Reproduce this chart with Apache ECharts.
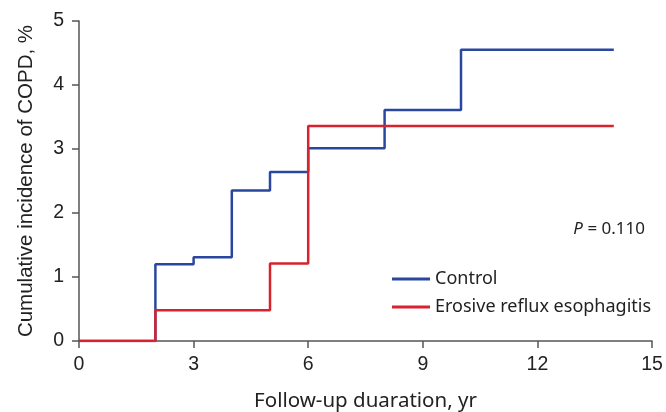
<!DOCTYPE html>
<html>
<head>
<meta charset="utf-8">
<script src="https://cdn.jsdelivr.net/npm/echarts@6/dist/echarts.min.js"></script>
<style>
  html, body { margin: 0; padding: 0; background: #fff; }
  #chart { width: 666px; height: 412px; }
</style>
</head>
<body>
<div id="chart"></div>
<script>
// 随访年份与累计发病率 (%)
const controlYears = [0, 2, 3, 4, 5, 6, 8, 10, 14];
const controlRates = [0, 1.2, 1.31, 2.35, 2.64, 3.01, 3.61, 4.55, 4.55];
const eeYears = [0, 2, 5, 6, 14];
const eeRates = [0, 0.48, 1.21, 3.36, 3.36];
const seriesNames = ['Control', 'Erosive reflux esophagitis'];
const pText = '0.110';

const toPairs = (xs, ys) => xs.map((x, i) => [x, ys[i]]);

const chart = echarts.init(document.getElementById('chart'));

const axisCommon = {
  axisLine: { show: true, lineStyle: { color: '#555', width: 1.5 } },
  axisTick: { show: true, length: 7, lineStyle: { color: '#555', width: 1.5 } },
  splitLine: { show: false },
  axisLabel: { color: '#222', fontSize: 19.5, fontFamily: 'Liberation Sans' }
};

chart.setOption({
  animation: false,
  grid: { left: 79, right: 14, top: 21, bottom: 71, outerBoundsMode: 'none', containLabel: false },
  xAxis: {
    type: 'value', min: 0, max: 15, interval: 3,
    name: 'Follow-up duaration, yr',
    nameLocation: 'middle', nameGap: 50,
    nameTextStyle: { color: '#222', fontSize: 20.5, fontFamily: 'Noto Sans' },
    ...axisCommon,
    axisLabel: { ...axisCommon.axisLabel, margin: 14 }
  },
  yAxis: {
    type: 'value', min: 0, max: 5, interval: 1,
    name: 'Cumulative incidence of COPD, %',
    nameLocation: 'middle', nameGap: 42,
    nameTextStyle: { color: '#222', fontSize: 20.5, fontFamily: 'Liberation Sans' },
    ...axisCommon,
    axisLabel: { ...axisCommon.axisLabel, margin: 15 }
  },
  legend: {
    orient: 'vertical', left: 387, top: 265,
    icon: 'rect', itemWidth: 38, itemHeight: 3, itemGap: 10,
    textStyle: { color: '#222', fontSize: 18, fontFamily: 'Noto Sans' },
    data: seriesNames
  },
  graphic: [{
    type: 'text', right: 21, top: 221,
    style: {
      text: '{i|P} = ' + pText,
      fill: '#222', font: '17px "Noto Sans"',
      rich: { i: { fontStyle: 'italic', fontSize: 17, fontFamily: 'Noto Sans', fill: '#222' } }
    }
  }],
  series: [
    {
      name: seriesNames[0], type: 'line', step: 'end', showSymbol: false, z: 2,
      lineStyle: { color: '#2a479f', width: 2.5 }, itemStyle: { color: '#2a479f' },
      data: toPairs(controlYears, controlRates)
    },
    {
      name: seriesNames[1], type: 'line', step: 'end', showSymbol: false, z: 3,
      lineStyle: { color: '#d8232f', width: 2.5 }, itemStyle: { color: '#d8232f' },
      data: toPairs(eeYears, eeRates)
    }
  ]
});
</script>
</body>
</html>
